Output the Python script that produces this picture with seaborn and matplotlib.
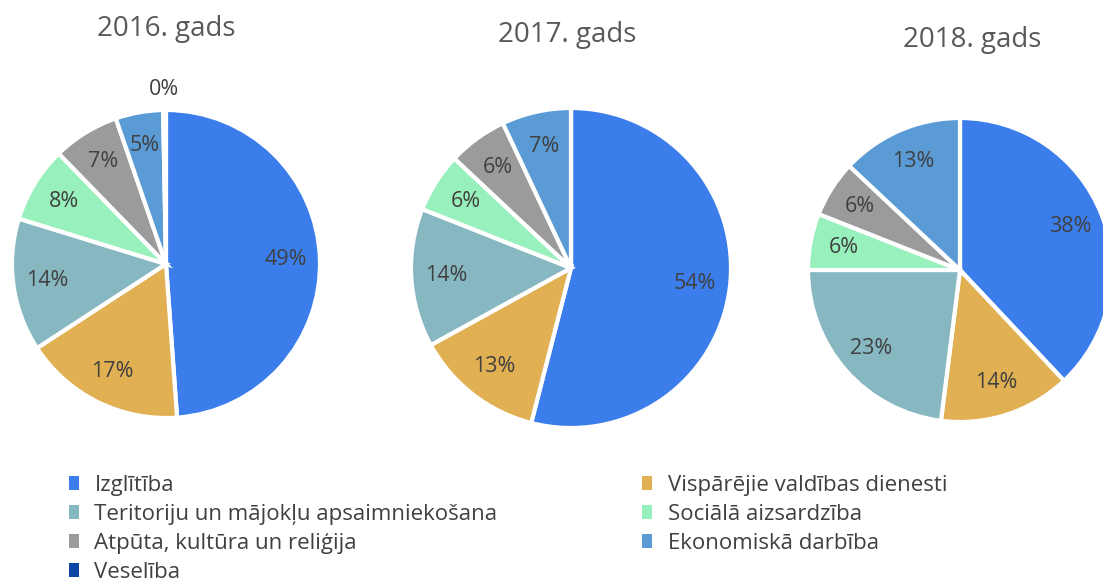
import matplotlib.pyplot as plt
import seaborn as sns
from matplotlib.patches import Patch

categories = ['Izglītība', 'Vispārējie valdības dienesti', 'Teritoriju un mājokļu apsaimniekošana',
              'Sociālā aizsardzība', 'Atpūta, kultūra un reliģija', 'Ekonomiskā darbība', 'Veselība']
years = ['2016. gads', '2017. gads', '2018. gads']
share_2016 = [49, 17, 14, 8, 7, 5, 0.3]
share_2017 = [54, 13, 14, 6, 6, 7, 0]
share_2018 = [38, 14, 23, 6, 6, 13, 0]
colors = ['#3B7EEB', '#E0B052', '#87B8C2', '#98F0BC', '#9B9B9B', '#5A9AD5', '#0D45A5']

sns.set_style('white')
plt.rcParams['font.family'] = ['Open Sans', 'DejaVu Sans']

W, H = 1103, 583
fig = plt.figure(figsize=(W / 100, H / 100), dpi=100)

# (center x, center y, radius) in pixels, title (x, y)
layout = [((166, 264, 154), (166, 29)),
          ((571, 268, 160), (567, 35)),
          ((960, 270, 152), (972, 40))]

for vals, year, ((cx, cy, r), (tx, ty)) in zip([share_2016, share_2017, share_2018], years, layout):
    ax = fig.add_axes([(cx - r) / W, 1 - (cy + r) / H, 2 * r / W, 2 * r / H])
    wedges, texts, autotexts = ax.pie(
        vals, colors=colors, startangle=90, counterclock=False,
        autopct=lambda p: f'{p:.0f}%' if p > 0 else '', pctdistance=0.78,
        wedgeprops=dict(edgecolor='white', linewidth=3),
        textprops=dict(color='#404040', fontsize=15.5))
    # tiny slice gets its label outside the pie
    for v, t in zip(vals, autotexts):
        if 0 < v < 1:
            x, y = t.get_position()
            t.set_position((x / 0.78 * 1.13, y / 0.78 * 1.13))
    ax.set_xlim(-1, 1)
    ax.set_ylim(-1, 1)
    ax.set_aspect('equal')
    fig.text(tx / W, 1 - ty / H, year, ha='center', va='center', fontsize=20, color='#595959')

handles = [Patch(facecolor=c, edgecolor='none', label=l) for c, l in zip(colors, categories)]
order = [0, 2, 4, 6, 1, 3, 5]
fig.legend([handles[i] for i in order], [categories[i] for i in order],
           loc='upper left', bbox_to_anchor=(60 / W, 1 - 466 / H), ncol=2, frameon=False,
           fontsize=16, labelcolor='#404040', handlelength=0.45, handleheight=0.55,
           handletextpad=0.7, columnspacing=6.5, labelspacing=0.36, borderaxespad=0)

fig.savefig('out.png', dpi=100)
